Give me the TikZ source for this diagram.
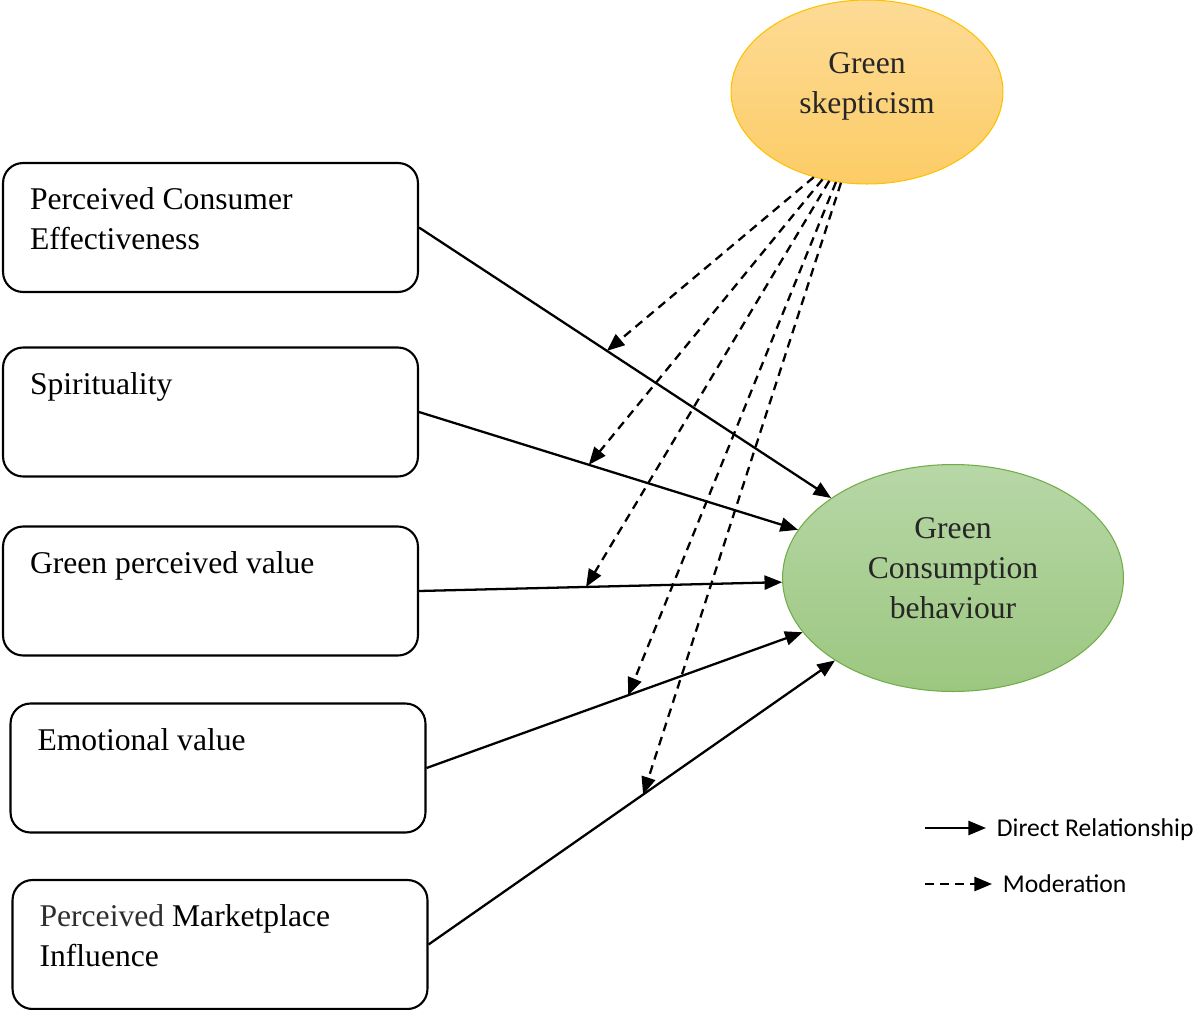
\documentclass[tikz,border=0pt]{standalone}
\usepackage{fontspec}
\setmainfont{Liberation Serif}
\newfontfamily\legendfont{Carlito}
\usetikzlibrary{shapes.geometric, arrows.meta}
\definecolor{skepfill}{RGB}{253,219,150}
\definecolor{skepfilldark}{RGB}{252,204,102}
\definecolor{skepdraw}{RGB}{255,192,0}
\definecolor{gcbfill}{RGB}{183,215,167}
\definecolor{gcbfilldark}{RGB}{156,199,128}
\definecolor{gcbdraw}{RGB}{112,173,71}
\definecolor{ovaltext}{RGB}{38,38,38}
\newcommand{\factortext}[1]{\parbox[c][1.58cm][t]{7.22cm}{\raggedright #1}}
\tikzstyle{factor} = [rectangle, rounded corners=0.4cm, minimum width=8.3cm, minimum height=2.58cm, inner xsep=0.54cm, inner ysep=0.5cm, draw=black, line width=1.2pt, font=\fontsize{18}{22.7}\selectfont]
\tikzstyle{skep} = [ellipse, minimum width=5.44cm, minimum height=3.68cm, inner sep=0pt, draw=skepdraw, line width=0.6pt, top color=skepfill, bottom color=skepfilldark]
\tikzstyle{outcome} = [ellipse, minimum width=6.82cm, minimum height=4.54cm, inner sep=0pt, draw=gcbdraw, line width=0.6pt, top color=gcbfill, bottom color=gcbfilldark]
\tikzstyle{ovallabel} = [align=center, text=ovaltext, font=\fontsize{18}{22.7}\selectfont]
\tikzstyle{legend} = [inner xsep=6pt, inner ysep=2pt, anchor=west, font=\legendfont\fontsize{14.6}{17}\selectfont]
\tikzstyle{arrow} = [line width=1.3pt,->,>={Triangle[length=10pt,width=8pt]}]
\tikzstyle{modarrow} = [arrow, dash pattern=on 5pt off 3.5pt]

\begin{document}
\begin{tikzpicture}[x=0.02cm, y=-0.02cm]
    \useasboundingbox (0,0) rectangle (1203,1010);
    % Place nodes
    \node (pce) [factor] at (210.5,227.5) {\factortext{Perceived Consumer\\Effectiveness}};
    \node (spir) [factor] at (210.5,412) {\factortext{Spirituality}};
    \node (gpv) [factor] at (210.5,591) {\factortext{Green perceived value}};
    \node (emo) [factor] at (218,768) {\factortext{Emotional value}};
    \node (pmi) [factor] at (220,944.5) {\factortext{{\color{black!82}Perceived} Marketplace\\Influence}};
    \node (gs) [skep, label={[ovallabel, yshift=0.11cm]center:Green\\skepticism}] at (867,92) {};
    \node (gcb) [outcome, label={[ovallabel, yshift=0.2cm]center:Green\\Consumption\\behaviour}] at (953,578) {};

    % Direct relationships
    \draw [arrow] (pce.east) -- coordinate[pos=0.456] (mpce) (gcb);
    \draw [arrow] (spir.east) -- coordinate[pos=0.448] (mspir) (gcb);
    \draw [arrow] (gpv.east) -- coordinate[pos=0.46] (mgpv) (gcb);
    \draw [arrow] (emo.east) -- coordinate[pos=0.536] (memo) (gcb);
    \draw [arrow] (pmi.east) -- coordinate[pos=0.528] (mpmi) (gcb);

    % Moderation
    \draw [modarrow] (gs.238) -- (mpce);
    \draw [modarrow] (gs.243) -- (mspir);
    \draw [modarrow] (gs.247) -- (mgpv);
    \draw [modarrow] (gs.251) -- (memo);
    \draw [modarrow] (gs.254) -- (mpmi);

    % Legend
    \coordinate (dirstart) at (925,828);
    \coordinate (modstart) at (925,884);
    \node (legdirect) [legend] at (986,830) {Direct Relationship};
    \node (legmod) [legend] at (992,884) {Moderation};
    \draw [arrow] (dirstart) -- (dirstart -| legdirect.west);
    \draw [modarrow] (modstart) -- (modstart -| legmod.west);
\end{tikzpicture}
\end{document}
